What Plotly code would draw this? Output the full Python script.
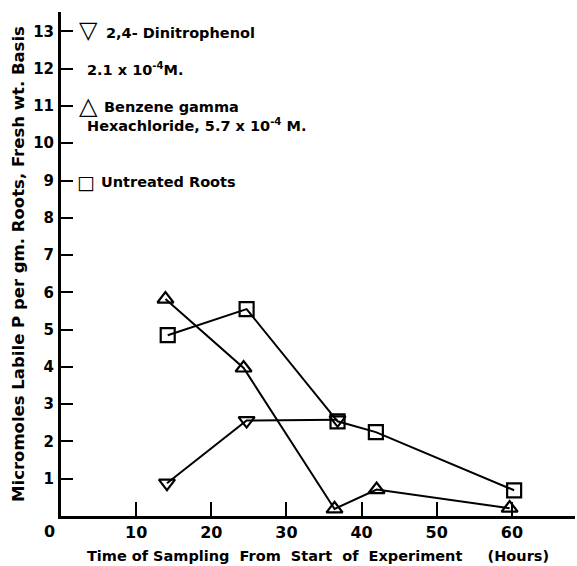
import plotly.graph_objects as go

# Data
hours_dnp = [14.1, 24.7, 36.8]
labile_p_dnp = [0.88, 2.56, 2.58]
hours_bhc = [13.9, 24.3, 36.4, 42.0, 59.7]
labile_p_bhc = [5.82, 3.97, 0.19, 0.71, 0.21]
hours_ctrl = [14.2, 24.7, 36.8, 41.9, 60.3]
labile_p_ctrl = [4.85, 5.55, 2.54, 2.25, 0.69]
x_ticks = [10, 20, 30, 40, 50, 60]
y_ticks = list(range(1, 14))

FONT = "DejaVu Sans"
BLACK = "#000000"

fig = go.Figure()

def add_series(xs, ys, symbol, name):
    fig.add_trace(go.Scatter(
        x=xs, y=ys, mode="lines+markers", name=name,
        line=dict(color=BLACK, width=2),
        marker=dict(symbol=symbol, size=14, color=BLACK,
                    line=dict(color=BLACK, width=2.2)),
        showlegend=False,
    ))

add_series(hours_dnp, labile_p_dnp, "triangle-down-open", "2,4-Dinitrophenol")
add_series(hours_bhc, labile_p_bhc, "triangle-up-open", "Benzene gamma Hexachloride")
add_series(hours_ctrl, labile_p_ctrl, "square-open", "Untreated Roots")

legend_font = dict(family=FONT, size=14.5, color=BLACK, weight="bold")
tri_font = dict(family=FONT, size=24, color=BLACK, weight="bold")
sq_font = dict(family=FONT, size=19, color=BLACK, weight="bold")
annots = [
    dict(x=3.6, y=13.05, text="\u25BD", font=tri_font, xanchor="center"),
    dict(x=5.75, y=12.96, text="2,4- Dinitrophenol", font=legend_font, xanchor="left"),
    dict(x=3.2, y=12.0, text="2.1 x 10<sup>-4</sup>M.", font=legend_font, xanchor="left"),
    dict(x=3.6, y=11.0, text="\u25B3", font=tri_font, xanchor="center"),
    dict(x=5.5, y=10.98, text="Benzene gamma", font=legend_font, xanchor="left"),
    dict(x=3.2, y=10.5, text="Hexachloride, 5.7 x 10<sup>-4</sup> M.", font=legend_font, xanchor="left"),
    dict(x=3.35, y=8.97, text="\u25A1", font=sq_font, xanchor="center"),
    dict(x=5.1, y=8.97, text="Untreated Roots", font=legend_font, xanchor="left"),
]
annotations = []
for a in annots:
    d = dict(xref="x", yref="y", showarrow=False, yanchor="middle")
    d.update(a)
    annotations.append(d)
annotations.append(dict(xref="paper", yref="paper", x=-0.023, y=-0.03, text="0",
                        showarrow=False, xanchor="center", yanchor="middle",
                        font=dict(family=FONT, size=16, color=BLACK, weight="bold")))

fig.update_layout(
    width=577, height=566,
    margin=dict(l=61, r=2, t=12, b=50),
    paper_bgcolor="white", plot_bgcolor="white",
    annotations=annotations,
    font=dict(family=FONT, color=BLACK),
    xaxis=dict(
        range=[0, 68.4], showgrid=False, zeroline=False,
        showline=True, linecolor=BLACK, linewidth=3,
        ticks="inside", ticklen=14, tickwidth=2, tickcolor=BLACK,
        tickvals=x_ticks,
        tickfont=dict(family=FONT, size=16, color=BLACK, weight="bold"),
        title=dict(text="Time of Sampling  From  Start  of  Experiment     (Hours)",
                   font=dict(family=FONT, size=14.5, color=BLACK, weight="bold"),
                   standoff=10),
    ),
    yaxis=dict(
        range=[0, 13.52], showgrid=False, zeroline=False,
        showline=True, linecolor=BLACK, linewidth=3,
        ticks="inside", ticklen=12, tickwidth=2, tickcolor=BLACK,
        tickvals=y_ticks,
        tickfont=dict(family=FONT, size=15, color=BLACK, weight="bold"),
        ticklabelstandoff=1,
        title=dict(text="Micromoles Labile P per gm. Roots, Fresh wt. Basis",
                   font=dict(family=FONT, size=16.5, color=BLACK, weight="bold"),
                   standoff=5),
    ),
)

fig.write_html("out.html")
